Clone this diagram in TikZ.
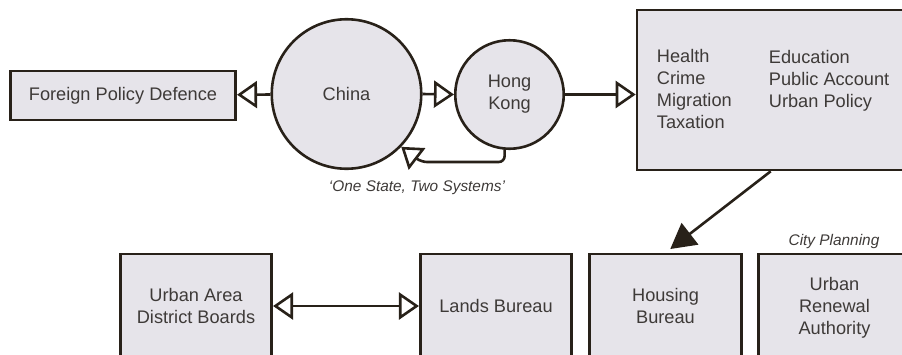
\documentclass[tikz,border=0pt]{standalone}
\usepackage{fontspec}
\setmainfont{Liberation Sans}
\usetikzlibrary{positioning,arrows.meta}
\definecolor{boxfill}{RGB}{230,228,234}
\definecolor{inkline}{RGB}{40,33,25}
\definecolor{inktext}{RGB}{62,58,56}

\begin{document}
\begin{tikzpicture}[
  x=1pt,y=-1pt,
  font=\fontsize{18.2}{22}\selectfont,
  >={Triangle[open,length=20pt,width=27pt]},
  panel/.style={rectangle,draw=inkline,fill=boxfill,line width=2.6pt,text=inktext,align=center,inner sep=0pt},
  state/.style={circle,draw=inkline,fill=boxfill,line width=2.6pt,text=inktext,align=center,inner sep=0pt},
  listtext/.style={align=left,text=inktext,inner sep=0pt,anchor=north west},
  note/.style={font=\fontsize{15.4}{18}\selectfont\itshape,text=inktext},
  arrow/.style={->,draw=inkline,line width=2.6pt},
  twoway/.style={<->,draw=inkline,line width=2.6pt},
  solidarrow/.style={-{Triangle[length=25pt,width=27pt]},draw=inkline,fill=inkline,line width=2.6pt}
]
\path[use as bounding box,clip] (0,0) rectangle (902,354);

% top row
\node[panel,minimum width=225.5pt,minimum height=49pt] (fpd) at (123,95.5) {Foreign Policy Defence};
\node[state,minimum size=149.5pt] (china) at (346.5,94) {China};
\node[state,minimum size=108.5pt] (hk) at (509.5,94.5) {Hong\\Kong};
\node[panel,minimum width=330pt,minimum height=160pt] (policy) at (802,90) {};
\node[listtext] (leftlist) at ([xshift=21pt,yshift=-40pt]policy.north west) {Health\\Crime\\Migration\\Taxation};
\node[listtext] (rightlist) at ([xshift=133pt,yshift=-41pt]policy.north west) {Education\\Public Account\\Urban Policy};

\draw[arrow] (china) -- (fpd);
\draw[arrow] (china.east) -- (hk.west);
\draw[arrow] (hk.east) -- (hk.east -| policy.west);

% back to China
\coordinate (turn) at (421,162);
\draw[arrow] (hk.-95) [rounded corners=6pt] |- (turn) [sharp corners] -- (china.-44);
\node[note] (motto) at (417,188) {‘One State, Two Systems’};

% bottom row
\node[panel,minimum width=151.5pt,minimum height=104pt] (uadb) at (196,306) {Urban Area\\District Boards};
\node[panel,minimum width=151.5pt,minimum height=104pt] (lands) at (496,306) {Lands Bureau};
\node[panel,minimum width=151.5pt,minimum height=104pt] (housing) at (665.5,306) {Housing\\Bureau};
\node[panel,minimum width=151.5pt,minimum height=108pt] (ura) at (834.5,308) {Urban\\Renewal\\Authority};
\node[note] (cityplan) at (834,242) {City Planning};

\draw[twoway] (uadb.east) -- (lands.west);
\draw[solidarrow,shorten >=6pt] ([xshift=135pt]policy.south west) -- (housing.north);
\end{tikzpicture}
\end{document}
